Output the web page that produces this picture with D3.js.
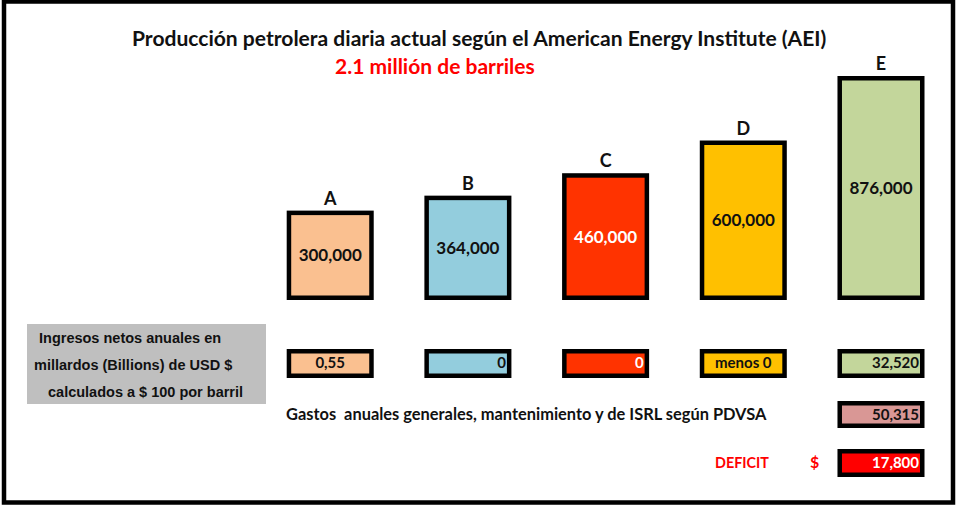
<!DOCTYPE html>
<html>
<head>
<meta charset="utf-8">
<script src="https://cdn.jsdelivr.net/npm/d3@7"></script>
<style>
  html, body { margin: 0; padding: 0; background: #ffffff; }
  svg { display: block; }
</style>
</head>
<body>
<div id="chart"></div>
<script>
// ---- Data ----
const categories = ["A", "B", "C", "D", "E"];
const production = [300000, 364000, 460000, 600000, 876000];
const incomeLabels = ["0,55", "0", "0", "menos 0", "32,520"];
const expensesLabel = "50,315";
const deficitLabel = "17,800";
const titleText = "Producción petrolera diaria actual según el American Energy Institute (AEI)";
const subtitleText = "2.1 millión de barriles";
const incomeCaption = ["Ingresos netos anuales en", "millardos (Billions) de USD $", "calculados a $ 100 por barril"];
const expensesCaption = "Gastos  anuales generales, mantenimiento y de ISRL según PDVSA";
const deficitCaption = "DEFICIT";

// ---- Styles ----
const colors = ["#FAC090", "#93CDDD", "#FF3300", "#FFC000", "#C3D69B"];
const textColors = ["#111", "#111", "#ffffff", "#111", "#111"];
const incomeAlign = ["middle", "end", "end", "middle", "end"];
const W = 957, H = 506;
const SW = 4.5;
const FONT = "Lato, 'Open Sans', sans-serif";

function fit(sel, w) {
  const len = sel.node().getComputedTextLength();
  const fs = parseFloat(sel.style("font-size"));
  if (len > 0) sel.style("font-size", (fs * w / len) + "px");
}

function draw() {
  const svg = d3.select("#chart").append("svg")
    .attr("width", W).attr("height", H);

  svg.append("rect").attr("x", 0).attr("y", 0).attr("width", W).attr("height", H).attr("fill", "#fff");

  // frame
  svg.append("rect")
    .attr("x", 4).attr("y", 1.5).attr("width", 949).attr("height", 501)
    .attr("fill", "none").attr("stroke", "#000").attr("stroke-width", 4.5);

  const x = d3.scaleBand().domain(categories).range([286.7, 924.5]).paddingInner(0.368).paddingOuter(0);
  const baseY = 300;
  const y = d3.scaleLinear().domain([-82500, d3.max(production)]).range([baseY, 76]);

  const data = categories.map((c, i) => ({ c, v: production[i], i }));

  // title
  const t = svg.append("text").text(titleText)
    .attr("x", 132).attr("y", 46)
    .style("font-family", FONT).style("font-weight", 700).style("font-size", "20px").attr("fill", "#111");
  fit(t, 695);
  const st = svg.append("text").text(subtitleText)
    .attr("x", 335).attr("y", 74)
    .style("font-family", FONT).style("font-weight", 700).style("font-size", "20px").attr("fill", "#FF0000");
  fit(st, 200);

  // bars
  const g = svg.append("g");
  g.selectAll("rect.bar").data(data).join("rect")
    .attr("class", "bar")
    .attr("x", d => x(d.c) + SW / 2)
    .attr("y", d => y(d.v) + SW / 2)
    .attr("width", x.bandwidth() - SW)
    .attr("height", d => baseY - y(d.v) - SW)
    .attr("fill", d => colors[d.i])
    .attr("stroke", "#000").attr("stroke-width", SW);

  g.selectAll("text.cat").data(data).join("text")
    .attr("class", "cat")
    .attr("x", d => x(d.c) + x.bandwidth() / 2)
    .attr("y", d => y(d.v) - 6)
    .attr("text-anchor", "middle")
    .style("font-family", FONT).style("font-weight", 700).style("font-size", "18px")
    .attr("fill", "#111")
    .text(d => d.c);

  const fmt = d3.format(",");
  g.selectAll("text.val").data(data).join("text")
    .attr("class", "val")
    .attr("x", d => x(d.c) + x.bandwidth() / 2)
    .attr("y", d => (y(d.v) + baseY) / 2 + 6)
    .attr("text-anchor", "middle")
    .style("font-family", FONT).style("font-weight", 700).style("font-size", "17px")
    .attr("fill", d => textColors[d.i])
    .text(d => fmt(d.v));

  // income row
  const rowTop = 349, rowBot = 378;
  g.selectAll("rect.inc").data(data).join("rect")
    .attr("class", "inc")
    .attr("x", d => x(d.c) + SW / 2)
    .attr("y", rowTop + SW / 2)
    .attr("width", x.bandwidth() - SW)
    .attr("height", rowBot - rowTop - SW)
    .attr("fill", d => colors[d.i])
    .attr("stroke", "#000").attr("stroke-width", SW);

  g.selectAll("text.inc").data(data).join("text")
    .attr("class", "inc")
    .attr("x", d => incomeAlign[d.i] === "end" ? x(d.c) + x.bandwidth() - 5.5 : x(d.c) + x.bandwidth() / 2)
    .attr("y", 368)
    .attr("text-anchor", d => incomeAlign[d.i])
    .style("font-family", FONT).style("font-weight", 700).style("font-size", "15px")
    .attr("fill", d => textColors[d.i])
    .text(d => incomeLabels[d.i]);

  // gray caption box
  svg.append("rect").attr("x", 27).attr("y", 324).attr("width", 239).attr("height", 80).attr("fill", "#BFBFBF");
  const capX = [39, 34, 48], capY = [343, 370, 397];
  incomeCaption.forEach((line, i) => {
    svg.append("text").text(line)
      .attr("x", capX[i]).attr("y", capY[i])
      .style("font-family", "'Liberation Sans', Arial, sans-serif").style("font-weight", 700).style("font-size", "14.5px")
      .attr("fill", "#111");
  });

  // expenses & deficit (column E)
  const eX = x("E"), eW = x.bandwidth();
  svg.append("rect").attr("x", eX + SW / 2).attr("y", 401 + SW / 2).attr("width", eW - SW).attr("height", 27 - SW)
    .attr("fill", "#D99795").attr("stroke", "#000").attr("stroke-width", SW);
  svg.append("text").text(expensesLabel).attr("x", eX + eW - 5.5).attr("y", 420).attr("text-anchor", "end")
    .style("font-family", FONT).style("font-weight", 700).style("font-size", "15px").attr("fill", "#111");
  const gc = svg.append("text").text(expensesCaption).attr("x", 286).attr("y", 420)
    .style("font-family", FONT).style("font-weight", 700).style("font-size", "15px").attr("fill", "#111")
    .style("white-space", "pre").attr("xml:space", "preserve");
  fit(gc, 481);

  svg.append("rect").attr("x", eX + SW / 2).attr("y", 449 + SW / 2).attr("width", eW - SW).attr("height", 28 - SW)
    .attr("fill", "#FF0000").attr("stroke", "#000").attr("stroke-width", SW);
  svg.append("text").text(deficitLabel).attr("x", eX + eW - 5.5).attr("y", 468).attr("text-anchor", "end")
    .style("font-family", FONT).style("font-weight", 700).style("font-size", "15px").attr("fill", "#fff");
  const dc = svg.append("text").text(deficitCaption).attr("x", 715).attr("y", 468)
    .style("font-family", FONT).style("font-weight", 700).style("font-size", "15px").attr("fill", "#FF0000");
  fit(dc, 54);
  svg.append("text").text("$").attr("x", 810).attr("y", 468)
    .style("font-family", FONT).style("font-weight", 700).style("font-size", "16px").attr("fill", "#FF0000");
}

if (document.fonts && document.fonts.ready) {
  document.fonts.ready.then(draw);
} else {
  draw();
}
</script>
</body>
</html>
